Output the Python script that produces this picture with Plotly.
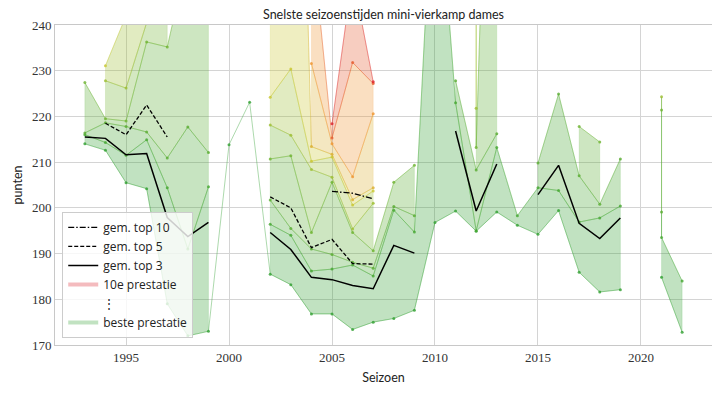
import plotly.graph_objects as go

seasons = list(range(1993, 2023))

# k-th best points total per season (None = no k-th result); values > 240 lie above the visible range
r1 = [214.0, 212.6, 205.5, 204.2, 179.0, 172.0, 173.0, 213.8, 223.1, 185.5, 183.2, 176.8, 176.8, 173.4, 175.0,
      175.8, 177.6, 196.8, 199.3, 194.9, 199.1, 196.2, 194.2, 199.4, 185.9, 181.6, 182.1, None, 184.8, 172.8]
r2 = [216.0, 214.3, 211.5, 214.9, 204.4, 191.0, 204.6, None, None, 196.4, 194.0, 186.2, 186.6, 187.5, 185.1,
      199.5, 194.7, 281.8, 223.0, 195.0, 213.2, 198.3, 204.4, 203.8, 196.9, 197.8, 200.4, None, 193.5, 184.0]
r3 = [216.4, 218.6, 217.8, 216.6, 210.9, 217.7, 212.1, None, None, 201.7, 195.5, 191.0, 189.8, 188.1, 186.8,
      200.3, 198.3, None, 227.8, 208.3, 216.2, None, 209.8, 224.9, 207.0, 200.8, 210.7, None, 199.1, None]
r4 = [227.4, 219.5, 219.0, 236.3, 235.2, 255.0, 250.0, None, None, 210.7, 211.4, 194.6, 205.6, 194.6, 190.6,
      205.6, 209.3, None, None, 213.2, 360.0, None, None, None, 217.8, 214.4, None, None, 221.4, None]
r5 = [None, 227.8, 226.2, 240.5, 248.6, None, None, None, None, 218.1, 215.9, 208.4, 206.7, 195.4, 201.0,
      None, None, None, None, 221.8, None, None, None, None, None, None, None, None, 224.3, None]
r6 = [None, 231.1, 242.0, 250.0, None, None, None, None, None, 224.2, 230.4, 210.2, 211.1, 200.6, 203.7,
      None, None, None, None, 250.0, None, None, None, None, None, None, None, None, None, None]
r7 = [None, None, None, None, None, None, None, None, None, 270.0, 380.0, 213.4, 211.7, 201.8, 204.4,
      None, None, None, None, None, None, None, None, None, None, None, None, None, None, None]
r8 = [None, None, None, None, None, None, None, None, None, None, None, 231.6, 214.0, 206.8, 220.6,
      None, None, None, None, None, None, None, None, None, None, None, None, None, None, None]
r9 = [None, None, None, None, None, None, None, None, None, None, None, 260.0, 215.3, 231.8, 227.2,
      None, None, None, None, None, None, None, None, None, None, None, None, None, None, None]
r10 = [None, None, None, None, None, None, None, None, None, None, None, None, 218.4, 251.0, 227.6,
       None, None, None, None, None, None, None, None, None, None, None, None, None, None, None]

top3 = [215.5, 215.2, 211.6, 211.9, 197.9, 193.7, 196.8, None, None, 194.6, 190.9, 184.8, 184.3, 183.0, 182.3,
        191.8, 190.1, None, 216.8, 199.3, 209.6, None, 202.9, 209.3, 196.6, 193.3, 197.8, None, 192.5, None]
top5 = [None, 218.5, 216.0, 222.5, 215.5, None, None, None, None, 202.4, 200.0, 191.3, 193.1, 187.8, 187.7,
        None, None, None, None, 206.6, None, None, None, None, None, None, None, None, 204.6, None]
top10 = [None, None, None, None, None, None, None, None, None, None, None, None, 203.6, 203.2, 202.0,
         None, None, None, None, None, None, None, None, None, None, None, None, None, None, None]

ranks = [r1, r2, r3, r4, r5, r6, r7, r8, r9, r10]

title = "Snelste seizoenstijden mini-vierkamp dames"
xlabel = "Seizoen"
ylabel = "punten"
legend_labels = ["gem. top 10", "gem. top 5", "gem. top 3", "10e prestatie", "⋮", "beste prestatie"]

ANCHORS = [(0.0, (50, 160, 50)), (0.33, (110, 180, 50)), (0.55, (200, 200, 50)),
           (0.78, (240, 150, 50)), (1.0, (220, 30, 40))]


def cmap(t):
    for (t0, c0), (t1, c1) in zip(ANCHORS[:-1], ANCHORS[1:]):
        if t <= t1:
            f = (t - t0) / (t1 - t0)
            return tuple(int(round(a + (b - a) * f)) for a, b in zip(c0, c1))
    return ANCHORS[-1][1]


def rgba(c, a):
    return f"rgba({c[0]},{c[1]},{c[2]},{a})"


fig = go.Figure()

# bands between consecutive ranks
for k in range(9):
    lo, hi = ranks[k], ranks[k + 1]
    col = cmap(k / 9)
    segments, seg = [], []
    for i in range(len(seasons)):
        if lo[i] is not None and hi[i] is not None:
            seg.append(i)
        elif seg:
            segments.append(seg)
            seg = []
    if seg:
        segments.append(seg)
    for sg in segments:
        xs = [seasons[i] for i in sg] + [seasons[i] for i in reversed(sg)]
        ys = [hi[i] for i in sg] + [lo[i] for i in reversed(sg)]
        fig.add_trace(go.Scatter(
            x=xs + [xs[0]], y=ys + [ys[0]], mode="lines", fill="toself",
            fillcolor=rgba(col, 0.3),
            line=dict(color=rgba(col, 0.45 if len(sg) == 1 else 0.25), width=1 if len(sg) == 1 else 0.6),
            hoverinfo="skip", showlegend=False))

# rank lines
for k in range(10):
    col = cmap(k / 9)
    fig.add_trace(go.Scatter(
        x=seasons, y=ranks[k], mode="lines+markers", connectgaps=False,
        line=dict(color=rgba(col, 0.5), width=0.8),
        marker=dict(size=3, color=rgba(col, 0.8)),
        hoverinfo="skip", showlegend=False))

# averages
fig.add_trace(go.Scatter(x=seasons, y=top10, mode="lines", name=legend_labels[0], legendrank=1,
                         line=dict(color="black", width=1.3, dash="6px,2px,1.5px,2px")))
fig.add_trace(go.Scatter(x=seasons, y=top5, mode="lines", name=legend_labels[1], legendrank=2,
                         line=dict(color="black", width=1.3, dash="4px,2px")))
fig.add_trace(go.Scatter(x=seasons, y=top3, mode="lines", name=legend_labels[2], legendrank=3,
                         line=dict(color="black", width=1.5)))

# legend-only entries
fig.add_trace(go.Scatter(x=[None], y=[None], mode="lines", name=legend_labels[3], legendrank=4,
                         line=dict(color=rgba(cmap(1.0), 0.3), width=4)))
fig.add_trace(go.Scatter(x=[None], y=[None], mode="lines", name=legend_labels[4], legendrank=5,
                         line=dict(color="rgba(0,0,0,0)", width=1)))
fig.add_trace(go.Scatter(x=[None], y=[None], mode="lines", name=legend_labels[5], legendrank=6,
                         line=dict(color=rgba(cmap(0.0), 0.3), width=4)))

axis_common = dict(showgrid=True, gridcolor="#d4d4d4", gridwidth=1, showline=True, linecolor="#c8c8c8",
                   linewidth=1, mirror=True, zeroline=False, ticks="", automargin=False,
                   tickfont=dict(family="Liberation Serif, DejaVu Serif, serif", size=13, color="#333"))

fig.update_layout(
    width=720, height=393,
    margin=dict(l=47, r=16, t=17, b=56),
    plot_bgcolor="white", paper_bgcolor="white",
    font=dict(family="Lato, Open Sans, sans-serif", size=12, color="#222"),
    title=dict(text=title, x=0.5, xref="paper", y=1 - 7 / 393, yref="container", yanchor="middle",
               xanchor="center", font=dict(size=12.5, family="Lato, sans-serif", color="#222")),
    xaxis=dict(range=[1991.55, 2023.45], tickvals=[1995, 2000, 2005, 2010, 2015, 2020],
               title=dict(text=xlabel, standoff=9, font=dict(size=12.5)), **axis_common),
    yaxis=dict(range=[170, 240], tickvals=list(range(170, 241, 10)),
               title=dict(text=ylabel, standoff=6, font=dict(size=12.5)), **axis_common),
    legend=dict(x=0.011, y=0.022, xanchor="left", yanchor="bottom", bgcolor="rgba(255,255,255,0.8)",
                bordercolor="#cccccc", borderwidth=1, tracegroupgap=0,
                font=dict(size=12, family="Open Sans, Lato, sans-serif", color="#222")),
    showlegend=True,
)

fig.write_html("out.html")
